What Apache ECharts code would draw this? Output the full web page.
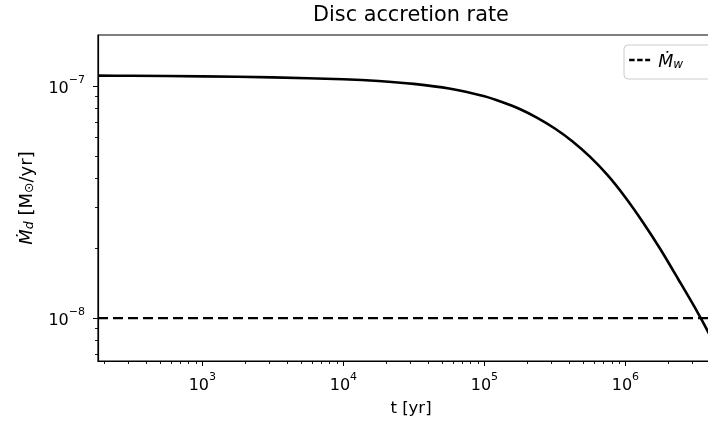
<!DOCTYPE html>
<html><head><meta charset="utf-8">
<script src="https://cdn.jsdelivr.net/npm/echarts@6/dist/echarts.min.js"></script>
<style>html,body{margin:0;padding:0;background:#fff}#c{width:708px;height:422px}</style>
</head><body><div id="c"></div>
<script>
// time [yr]
const tYears = [182, 316, 1000, 3160, 1e4, 1.78e4, 3.16e4, 5.62e4, 1e5, 1.33e5, 1.78e5, 2.37e5, 3.16e5, 4.22e5, 5.62e5, 7.5e5, 1e6, 1.33e6, 1.78e6, 2.37e6, 3.16e6, 3.98e6, 5.0e6];
// disc accretion rate [Msun/yr]
const mdotDisc = [1.109e-7, 1.107e-7, 1.101e-7, 1.090e-7, 1.070e-7, 1.052e-7, 1.022e-7, 9.76e-8, 9.03e-8, 8.53e-8, 7.96e-8, 7.29e-8, 6.56e-8, 5.77e-8, 4.95e-8, 4.12e-8, 3.31e-8, 2.59e-8, 1.97e-8, 1.47e-8, 1.09e-8, 8.4e-9, 6.3e-9];
// wind mass-loss rate
const windT = [182, 5e6];
const mdotWind = [1e-8, 1e-8];
// axis ranges
const xRange = [182, 5e6];
const yRange = [6.53e-9, 1.66e-7];
// ticks
const xMajorTicks = [1e3, 1e4, 1e5, 1e6];
const xTickLabels = ['3', '4', '5', '6'];
const xMinorTicks = [200,300,400,500,600,700,800,900, 2e3,3e3,4e3,5e3,6e3,7e3,8e3,9e3, 2e4,3e4,4e4,5e4,6e4,7e4,8e4,9e4, 2e5,3e5,4e5,5e5,6e5,7e5,8e5,9e5, 2e6,3e6,4e6];
const yMajorTicks = [1e-8, 1e-7];
const yTickLabels = ['\u22128', '\u22127'];
const yMinorTicks = [7e-9, 8e-9, 9e-9, 2e-8, 3e-8, 4e-8, 5e-8, 6e-8, 7e-8, 8e-8, 9e-8];

const L = Math.log10;
const FONT = 'DejaVu Sans';
const supRich = {
  b: {fontSize: 16, fontFamily: FONT, color: '#000', lineHeight: 22, verticalAlign: 'bottom'},
  s: {fontSize: 11, fontFamily: FONT, color: '#000', lineHeight: 18, verticalAlign: 'top'}
};
function labelFor(ticks, labels) {
  return function (v) {
    for (let i = 0; i < ticks.length; i++) if (Math.abs(L(ticks[i]) - v) < 1e-6) return '{b|10}{s|' + labels[i] + '}';
    return '';
  };
}
const xMin = L(xRange[0]), xMax = L(xRange[1]);
const yMin = L(yRange[0]), yMax = L(yRange[1]);
const axisLineStyle = {color: '#000', width: 1.2};
const clear = 'rgba(0,0,0,0)';

const chart = echarts.init(document.getElementById('c'), null, {renderer: 'canvas'});
chart.setOption({
  animation: false,
  backgroundColor: '#fff',
  title: {
    text: 'Disc accretion rate', left: 313, top: 5, padding: 0,
    textStyle: {fontFamily: FONT, fontSize: 20.8, fontWeight: 'normal', color: '#000'}
  },
  grid: {left: 98, top: 35, right: -16, bottom: 61, outerBoundsMode: 'none', containLabel: false, show: true, borderColor: '#000', borderWidth: 1.2, backgroundColor: 'transparent'},
  legend: {
    left: 624, top: 45, padding: [8, 40, 8, 4],
    borderColor: '#cccccc', borderWidth: 1, borderRadius: 4, backgroundColor: 'rgba(255,255,255,0.8)',
    itemWidth: 21, itemHeight: 14,
    data: ['Mdot_w'],
    itemStyle: {color: clear, borderColor: clear, borderWidth: 0},
    lineStyle: {color: '#000', width: 2.3, type: [5.5, 2.5]},
    formatter: function () { return '{m|\u1E40}{s|w}'; },
    textStyle: {
      rich: {
        m: {fontSize: 17.5, fontFamily: FONT, fontStyle: 'italic', color: '#000', lineHeight: 22, verticalAlign: 'bottom', padding: [0, 0, 0, 3]},
        s: {fontSize: 12, fontFamily: FONT, fontStyle: 'italic', color: '#000', lineHeight: 12.6, verticalAlign: 'bottom'}
      }
    }
  },
  xAxis: [{
    type: 'value', min: xMin, max: xMax, position: 'bottom',
    splitLine: {show: false},
    axisLine: {show: true, lineStyle: axisLineStyle},
    axisTick: {show: true, length: 5, lineStyle: {color: '#000', width: 1}, customValues: xMajorTicks.map(L)},
    axisLabel: {margin: 11, customValues: xMajorTicks.map(L), formatter: labelFor(xMajorTicks, xTickLabels), rich: supRich},
    name: 't [yr]', nameLocation: 'middle', nameGap: 39,
    nameTextStyle: {fontFamily: FONT, fontSize: 16.5, color: '#000'}
  }, {
    type: 'value', min: xMin, max: xMax, position: 'bottom', offset: 0,
    splitLine: {show: false},
    axisLine: {show: false},
    axisTick: {show: true, length: 3, lineStyle: {color: '#000', width: 0.9}, customValues: xMinorTicks.map(L)},
    axisLabel: {show: false}
  }],
  yAxis: [{
    type: 'value', min: yMin, max: yMax, position: 'left',
    splitLine: {show: false},
    axisLine: {show: true, lineStyle: axisLineStyle},
    axisTick: {show: true, length: 5, lineStyle: {color: '#000', width: 1}, customValues: yMajorTicks.map(L)},
    axisLabel: {margin: 13, customValues: yMajorTicks.map(L), formatter: labelFor(yMajorTicks, yTickLabels), rich: supRich},
    name: '{m|\u1E40}{sd|d}{n| [M}{so|\u2299}{n|/yr]}', nameLocation: 'middle', nameGap: 62, nameRotate: 90,
    nameTextStyle: {
      rich: {
        m: {fontSize: 18, fontFamily: FONT, fontStyle: 'italic', color: '#000', lineHeight: 24, verticalAlign: 'bottom'},
        sd: {fontSize: 12.5, fontFamily: FONT, fontStyle: 'italic', color: '#000', lineHeight: 13.5, verticalAlign: 'bottom'},
        n: {fontSize: 18, fontFamily: FONT, color: '#000', lineHeight: 24, verticalAlign: 'bottom'},
        so: {fontSize: 12.5, fontFamily: FONT, color: '#000', lineHeight: 13.5, verticalAlign: 'bottom'}
      }
    }
  }, {
    type: 'value', min: yMin, max: yMax, position: 'left', offset: 0,
    splitLine: {show: false},
    axisLine: {show: false},
    axisTick: {show: true, length: 3, lineStyle: {color: '#000', width: 0.9}, customValues: yMinorTicks.map(L)},
    axisLabel: {show: false}
  }],
  series: [{
    name: 'Mdot_d', type: 'line', xAxisIndex: 0, yAxisIndex: 0,
    data: tYears.map((t, i) => [L(t), L(mdotDisc[i])]),
    showSymbol: false, symbol: 'none', smooth: 0.25, clip: true,
    itemStyle: {color: '#000'},
    lineStyle: {color: '#000', width: 2.6}
  }, {
    name: 'Mdot_w', type: 'line', xAxisIndex: 0, yAxisIndex: 0,
    data: windT.map((t, i) => [L(t), L(mdotWind[i])]),
    showSymbol: false, symbol: 'none', clip: true,
    itemStyle: {color: '#000'},
    lineStyle: {color: '#000', width: 2.3, type: [10, 5]}
  }]
});
</script></body></html>
